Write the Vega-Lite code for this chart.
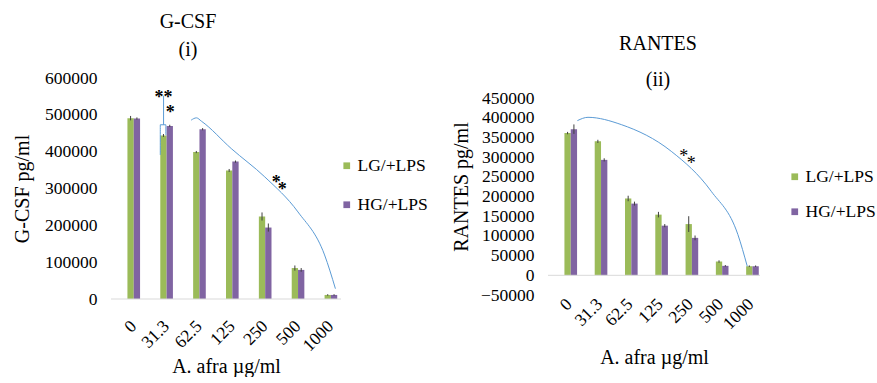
{
  "$schema": "https://vega.github.io/schema/vega-lite/v6.json",
  "background": "white",
  "padding": {"left": 12, "top": 12, "right": 0, "bottom": 0},
  "spacing": 23,
  "config": {
    "font": "Liberation Serif",
    "view": {"stroke": null},
    "axis": {"labelFont": "Liberation Serif", "titleFont": "Liberation Serif", "labelFontSize": 17.5, "titleFontSize": 20, "titleFontWeight": "normal", "labelColor": "#000000", "titleColor": "#000000", "ticks": false, "grid": false, "domain": false, "labelOverlap": false},
    "legend": {"labelFont": "Liberation Serif", "labelFontSize": 17.5, "labelColor": "#000000", "symbolType": "square", "symbolSize": 45, "symbolStrokeWidth": 0, "rowPadding": 20, "labelOffset": 2},
    "title": {"font": "Liberation Serif", "fontSize": 20, "fontWeight": "normal", "color": "#000000"}
  },
  "datasets": {
    "gcsf": [
      {"conc": "0", "series": "LG/+LPS", "value": 491000, "lo": 485000, "hi": 497000},
      {"conc": "0", "series": "HG/+LPS", "value": 490000, "lo": 487000, "hi": 493000},
      {"conc": "31.3", "series": "LG/+LPS", "value": 444000, "lo": 440000, "hi": 448000},
      {"conc": "31.3", "series": "HG/+LPS", "value": 470000, "lo": 467000, "hi": 473000},
      {"conc": "62.5", "series": "LG/+LPS", "value": 399000, "lo": 396000, "hi": 402000},
      {"conc": "62.5", "series": "HG/+LPS", "value": 461000, "lo": 458000, "hi": 464000},
      {"conc": "125", "series": "LG/+LPS", "value": 349000, "lo": 345000, "hi": 353000},
      {"conc": "125", "series": "HG/+LPS", "value": 373000, "lo": 370000, "hi": 376000},
      {"conc": "250", "series": "LG/+LPS", "value": 224000, "lo": 213000, "hi": 235000},
      {"conc": "250", "series": "HG/+LPS", "value": 194000, "lo": 183000, "hi": 205000},
      {"conc": "500", "series": "LG/+LPS", "value": 84000, "lo": 77000, "hi": 91000},
      {"conc": "500", "series": "HG/+LPS", "value": 79000, "lo": 74000, "hi": 84000},
      {"conc": "1000", "series": "LG/+LPS", "value": 11000, "lo": 9000, "hi": 13000},
      {"conc": "1000", "series": "HG/+LPS", "value": 11000, "lo": 9000, "hi": 13000}
    ],
    "rantes": [
      {"conc": "0", "series": "LG/+LPS", "value": 361000, "lo": 358000, "hi": 364000},
      {"conc": "0", "series": "HG/+LPS", "value": 371000, "lo": 359000, "hi": 383000},
      {"conc": "31.3", "series": "LG/+LPS", "value": 340000, "lo": 336000, "hi": 344000},
      {"conc": "31.3", "series": "HG/+LPS", "value": 293000, "lo": 289000, "hi": 297000},
      {"conc": "62.5", "series": "LG/+LPS", "value": 195000, "lo": 188000, "hi": 202000},
      {"conc": "62.5", "series": "HG/+LPS", "value": 182000, "lo": 177000, "hi": 187000},
      {"conc": "125", "series": "LG/+LPS", "value": 154000, "lo": 147000, "hi": 161000},
      {"conc": "125", "series": "HG/+LPS", "value": 126000, "lo": 122000, "hi": 130000},
      {"conc": "250", "series": "LG/+LPS", "value": 130000, "lo": 110000, "hi": 150000},
      {"conc": "250", "series": "HG/+LPS", "value": 95000, "lo": 89000, "hi": 101000},
      {"conc": "500", "series": "LG/+LPS", "value": 35000, "lo": 32000, "hi": 38000},
      {"conc": "500", "series": "HG/+LPS", "value": 24000, "lo": 22000, "hi": 26000},
      {"conc": "1000", "series": "LG/+LPS", "value": 23000, "lo": 21000, "hi": 25000},
      {"conc": "1000", "series": "HG/+LPS", "value": 23000, "lo": 21000, "hi": 25000}
    ],
    "gcsfLines": [
      {"path": "arc", "ord": 1, "xq": 2.44, "y": 485600},
      {"path": "arc", "ord": 2, "xq": 2.60, "y": 491800},
      {"path": "arc", "ord": 3, "xq": 2.75, "y": 482900},
      {"path": "arc", "ord": 4, "xq": 3.66, "y": 408400},
      {"path": "arc", "ord": 5, "xq": 4.68, "y": 331500},
      {"path": "arc", "ord": 6, "xq": 5.69, "y": 236400},
      {"path": "arc", "ord": 7, "xq": 6.50, "y": 119600},
      {"path": "arc", "ord": 8, "xq": 6.83, "y": 28000},
      {"path": "stem", "ord": 1, "xq": 1.60, "y": 552000},
      {"path": "stem", "ord": 2, "xq": 1.60, "y": 473000},
      {"path": "box", "ord": 1, "xq": 1.67, "y": 445000},
      {"path": "box", "ord": 2, "xq": 1.67, "y": 473000},
      {"path": "box", "ord": 3, "xq": 1.50, "y": 473000},
      {"path": "box", "ord": 4, "xq": 1.50, "y": 391000}
    ],
    "gcsfStars": [
      {"xq": 1.60, "y": 557000, "label": "**"},
      {"xq": 1.80, "y": 516000, "label": "*"},
      {"xq": 5.03, "y": 325300, "label": "*"},
      {"xq": 5.21, "y": 307100, "label": "*"}
    ],
    "rantesLines": [
      {"path": "arc", "ord": 1, "xq": 0.97, "y": 392600},
      {"path": "arc", "ord": 2, "xq": 1.32, "y": 401000},
      {"path": "arc", "ord": 3, "xq": 2.42, "y": 382500},
      {"path": "arc", "ord": 4, "xq": 4.07, "y": 314700},
      {"path": "arc", "ord": 5, "xq": 5.39, "y": 213200},
      {"path": "arc", "ord": 6, "xq": 6.27, "y": 103300},
      {"path": "arc", "ord": 7, "xq": 6.58, "y": 22800}
    ],
    "rantesStars": [
      {"xq": 4.48, "y": 310400, "label": "*"},
      {"xq": 4.73, "y": 293700, "label": "*"}
    ]
  },
  "hconcat": [
    {
      "width": 230,
      "height": 221,
      "title": {"text": ["G-CSF", "(i)"], "lineHeight": 28, "dx": -38, "offset": 9},
      "resolve": {"scale": {"x": "independent"}},
      "layer": [
        {
          "data": {"name": "gcsf"},
          "encoding": {
            "x": {"field": "conc", "type": "nominal", "sort": ["0", "31.3", "62.5", "125", "250", "500", "1000"], "scale": {"paddingInner": 0, "paddingOuter": 0}, "axis": {"labelAngle": -45, "labelPadding": 18, "labelDx": -7, "title": "A. afra  µg/ml", "titlePadding": 2}},
            "xOffset": {"field": "series", "scale": {"domain": ["s1", "s2", "LG/+LPS", "HG/+LPS"], "paddingInner": 0, "paddingOuter": 0.6}}
          },
          "layer": [
            {
              "mark": {"type": "bar"},
              "encoding": {
                "y": {"field": "value", "type": "quantitative", "scale": {"domain": [0, 600000], "nice": false}, "axis": {"values": [0, 100000, 200000, 300000, 400000, 500000, 600000], "tickCount": 20, "format": "d", "labelOverlap": false, "title": "G-CSF pg/ml", "labelPadding": 14, "titlePadding": 12}},
                "color": {"field": "series", "type": "nominal", "scale": {"domain": ["LG/+LPS", "HG/+LPS"], "range": ["#9BBB59", "#8064A2"]}, "legend": {"title": null, "orient": "none", "legendX": 227, "legendY": 79}}
              }
            },
            {
              "mark": {"type": "rule", "color": "#404040", "strokeWidth": 1},
              "encoding": {
                "y": {"field": "lo", "type": "quantitative"},
                "y2": {"field": "hi"}
              }
            }
          ]
        },
        {
          "data": {"values": [{}]},
          "mark": {"type": "rule", "color": "#D9D9D9", "strokeWidth": 1},
          "encoding": {"y": {"datum": 0}}
        },
        {
          "data": {"name": "gcsfLines"},
          "mark": {"type": "line", "color": "#5B9BD5", "strokeWidth": 1, "interpolate": "monotone"},
          "encoding": {
            "x": {"field": "xq", "type": "quantitative", "scale": {"domain": [0, 7], "nice": false, "zero": false}, "axis": null},
            "y": {"field": "y", "type": "quantitative"},
            "detail": {"field": "path"},
            "order": {"field": "ord"}
          }
        },
        {
          "data": {"name": "gcsfStars"},
          "mark": {"type": "text", "fontSize": 18, "fontWeight": "bold", "baseline": "middle", "dy": 4, "color": "#000000"},
          "encoding": {
            "x": {"field": "xq", "type": "quantitative", "scale": {"domain": [0, 7], "nice": false, "zero": false}, "axis": null},
            "y": {"field": "y", "type": "quantitative"},
            "text": {"field": "label"}
          }
        }
      ]
    },
    {
      "width": 212,
      "height": 217,
      "title": {"text": ["RANTES", "(ii)"], "lineHeight": 36, "dx": 4, "dy": 12, "offset": 0},
      "resolve": {"scale": {"x": "independent"}},
      "layer": [
        {
          "data": {"name": "rantes"},
          "encoding": {
            "x": {"field": "conc", "type": "nominal", "sort": ["0", "31.3", "62.5", "125", "250", "500", "1000"], "scale": {"paddingInner": 0, "paddingOuter": 0}, "axis": {"labelAngle": -45, "labelPadding": 0, "title": "A. afra µg/ml", "titlePadding": 15}},
            "xOffset": {"field": "series", "scale": {"domain": ["s1", "s2", "LG/+LPS", "HG/+LPS"], "paddingInner": 0, "paddingOuter": 0.5}}
          },
          "layer": [
            {
              "mark": {"type": "bar"},
              "encoding": {
                "y": {"field": "value", "type": "quantitative", "scale": {"domain": [-50000, 500800], "nice": false, "zero": false}, "axis": {"values": [-50000, 0, 50000, 100000, 150000, 200000, 250000, 300000, 350000, 400000, 450000], "tickCount": 30, "format": "d", "labelOverlap": false, "title": "RANTES pg/ml", "labelPadding": 14, "titlePadding": 9}},
                "color": {"field": "series", "type": "nominal", "scale": {"domain": ["LG/+LPS", "HG/+LPS"], "range": ["#9BBB59", "#8064A2"]}, "legend": {"title": null, "orient": "none", "legendX": 238, "legendY": 90, "rowPadding": 16}}
              }
            },
            {
              "mark": {"type": "rule", "color": "#404040", "strokeWidth": 1},
              "encoding": {
                "y": {"field": "lo", "type": "quantitative"},
                "y2": {"field": "hi"}
              }
            }
          ]
        },
        {
          "data": {"values": [{}]},
          "mark": {"type": "rule", "color": "#D9D9D9", "strokeWidth": 1},
          "encoding": {"y": {"datum": 0}}
        },
        {
          "data": {"name": "rantesLines"},
          "mark": {"type": "line", "color": "#5B9BD5", "strokeWidth": 1, "interpolate": "monotone"},
          "encoding": {
            "x": {"field": "xq", "type": "quantitative", "scale": {"domain": [0, 7], "nice": false, "zero": false}, "axis": null},
            "y": {"field": "y", "type": "quantitative"},
            "detail": {"field": "path"},
            "order": {"field": "ord"}
          }
        },
        {
          "data": {"name": "rantesStars"},
          "mark": {"type": "text", "fontSize": 18, "baseline": "middle", "dy": 4, "color": "#000000"},
          "encoding": {
            "x": {"field": "xq", "type": "quantitative", "scale": {"domain": [0, 7], "nice": false, "zero": false}, "axis": null},
            "y": {"field": "y", "type": "quantitative"},
            "text": {"field": "label"}
          }
        }
      ]
    }
  ],
  "resolve": {"scale": {"color": "independent"}}
}
